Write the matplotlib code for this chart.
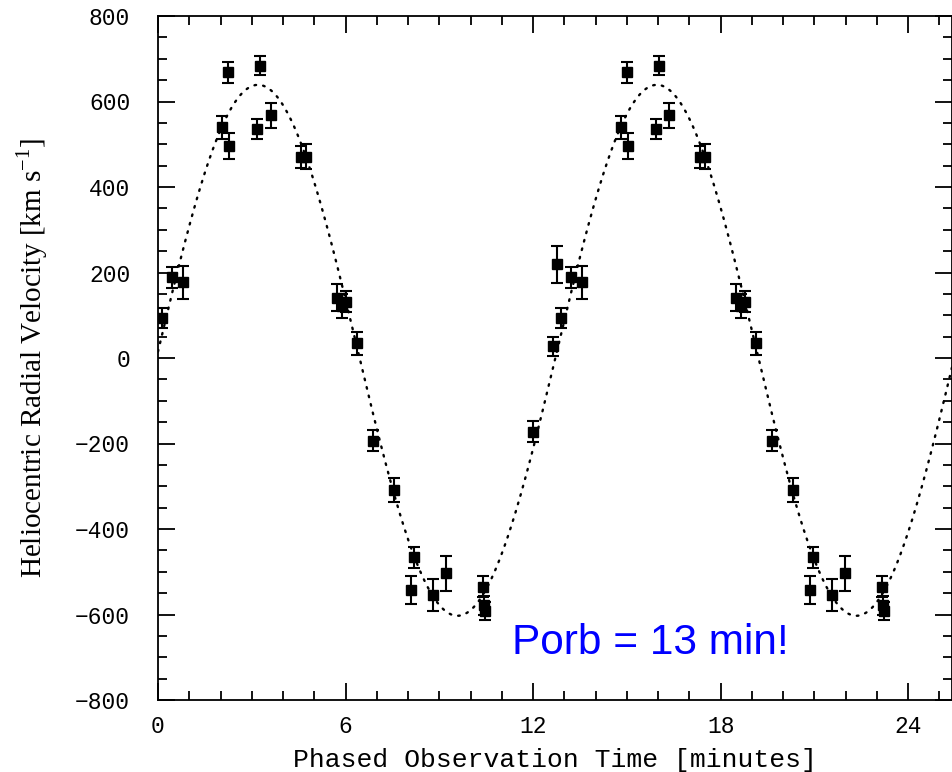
import numpy as np
import matplotlib
matplotlib.use("Agg")
import matplotlib.pyplot as plt
from matplotlib.ticker import MultipleLocator

# phased radial velocities (minutes, km/s, 1-sigma error)
phase = [-0.76, -0.12, -0.01, 0.14, 0.45, 0.79, 2.06, 2.25, 2.28, 3.16,
         3.26, 3.60, 4.57, 4.74, 5.74, 5.88, 6.02, 6.36, 6.87, 7.55,
         8.18, 8.09, 8.81, 9.22, 10.40, 10.44, 10.46]
velocity = [-172, 27, 219, 93, 189, 177, 540, 668, 496, 536,
            684, 568, 471, 471, 141, 122, 132, 34, -193, -309,
            -466, -543, -554, -504, -535, -578, -592]
error = [25, 23, 44, 23, 25, 39, 27, 25, 30, 23,
         23, 29, 26, 30, 31, 28, 25, 27, 25, 28,
         25, 33, 37, 41, 25, 22, 22]

# sine fit: v = gamma + K sin(2 pi (t - t0) / P)
period = 12.76
gamma = 18.0
K = 621.0
t0 = 0.01

xmax = 25.4

plt.rcParams['mathtext.fontset'] = 'custom'
plt.rcParams['mathtext.rm'] = 'Liberation Serif'

fig = plt.figure(figsize=(9.52, 7.72), dpi=100)
ax = fig.add_axes([158 / 952, 1 - 700 / 772, 794 / 952, 684 / 772])

# the data are plotted over two cycles
t = np.array(phase)
v = np.array(velocity)
e = np.array(error)
tt = np.concatenate([t, t + period])
vv = np.concatenate([v, v])
ee = np.concatenate([e, e])
keep = (tt >= 0) & (tt < xmax + 0.2)

ax.errorbar(tt[keep], vv[keep], yerr=ee[keep], fmt='s', color='black',
            ms=6.5, elinewidth=1.5, capsize=4.5, capthick=1.5)

curve_t = np.linspace(0, xmax, 800)
curve_v = gamma + K * np.sin(2 * np.pi * (curve_t - t0) / period)
ax.plot(curve_t, curve_v, color='black', lw=1.7,
        linestyle=(0, (0.7, 3.0)), dash_capstyle='round')

ax.set_xlim(0, xmax)
ax.set_ylim(-800, 800)
ax.xaxis.set_major_locator(MultipleLocator(6))
ax.xaxis.set_minor_locator(MultipleLocator(1))
ax.yaxis.set_major_locator(MultipleLocator(200))
ax.yaxis.set_minor_locator(MultipleLocator(50))

ax.tick_params(which='both', direction='in', top=True, right=True, width=1.3)
ax.tick_params(which='major', length=12)
ax.tick_params(which='minor', length=6.5)
ax.tick_params(axis='x', pad=11)
ax.tick_params(axis='y', pad=20)
for sp in ax.spines.values():
    sp.set_linewidth(1.3)

for lab in ax.get_xticklabels() + ax.get_yticklabels():
    lab.set_fontfamily('Liberation Mono')
    lab.set_fontsize(16.5)

ax.set_xlabel('Phased Observation Time [minutes]', family='Liberation Mono',
              fontsize=19, labelpad=7)
ax.set_ylabel(r'Heliocentric Radial Velocity [km s$^{-1}$]',
              family='Liberation Serif', fontsize=21)
ax.yaxis.set_label_coords(-0.136, 0.5)

ax.text(11.33, -692, 'Porb = 13 min!', color='#0000ff', fontsize=30.5,
        family='Liberation Sans', ha='left', va='baseline')

fig.savefig('out.png', dpi=100)
